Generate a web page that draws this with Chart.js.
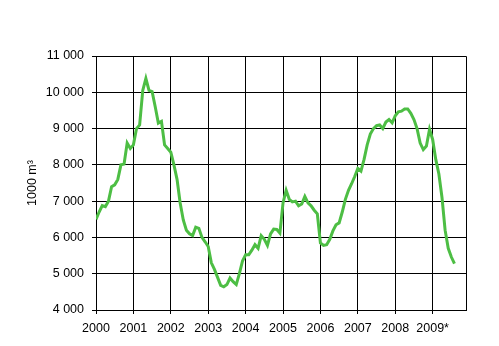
<!DOCTYPE html>
<html>
<head>
<meta charset="utf-8">
<script src="https://cdn.jsdelivr.net/npm/chart.js"></script>
<style>
  html, body { margin: 0; padding: 0; background: #fff; }
  #wrap { width: 499px; height: 346px; }
</style>
</head>
<body>
<div id="wrap"><canvas id="chart" width="499" height="346"></canvas></div>
<script>
// monthly values, 1000 m3, Jan 2000 .. Aug 2009
const values = [
  6500, 6700, 6880, 6850, 7000, 7400, 7450, 7600, 8000, 8020, 8600, 8450,
  8550, 9000, 9100, 10050, 10380, 10050, 10020, 9600, 9150, 9200, 8550, 8450,
  8350, 8000, 7600, 6950, 6480, 6200, 6100, 6050, 6280, 6250, 6000, 5880,
  5750, 5300, 5120, 4900, 4680, 4640, 4700, 4880, 4780, 4700, 5000, 5350,
  5520, 5520, 5650, 5800, 5700, 6050, 5950, 5780, 6100, 6230, 6220, 6120,
  6950, 7300, 7050, 6980, 7000, 6870, 6920, 7130, 6950, 6870, 6750, 6650,
  5850, 5780, 5800, 5950, 6180, 6350, 6400, 6700, 7050, 7300, 7480, 7680,
  7900, 7830, 8150, 8550, 8850, 9000, 9080, 9100, 9000, 9180, 9250, 9160,
  9350, 9460, 9480, 9540, 9540, 9420, 9250, 9000, 8600, 8420, 8520, 8980,
  8700, 8150, 7750, 7100, 6200, 5700, 5460, 5280
];
const xLabels = ['2000', '2001', '2002', '2003', '2004', '2005', '2006', '2007', '2008', '2009*'];
const yTicks = [4000, 5000, 6000, 7000, 8000, 9000, 10000, 11000];

const points = values.map((v, i) => ({ x: i, y: v }));
const fmt = n => String(n).replace(/\B(?=(\d{3})+(?!\d))/g, ' ');
const font = { family: 'Liberation Sans, Arial', size: 12.5 };

new Chart(document.getElementById('chart').getContext('2d'), {
  type: 'line',
  data: {
    datasets: [{
      data: points,
      borderColor: '#4dbe44',
      borderWidth: 3,
      pointRadius: 0,
      tension: 0,
      fill: false
    }]
  },
  options: {
    responsive: false,
    animation: false,
    layout: { padding: { top: 56, right: 33, left: 0, bottom: 0 } },
    plugins: { legend: { display: false }, tooltip: { enabled: false } },
    scales: {
      x: {
        type: 'linear',
        min: 0,
        max: 118.7,
        afterFit: s => { s.height = 36; },
        afterBuildTicks: s => { s.ticks = xLabels.map((_, i) => ({ value: i * 12 })); },
        ticks: {
          color: '#000',
          font: font,
          maxRotation: 0,
          autoSkip: false,
          padding: 7,
          callback: v => xLabels[v / 12]
        },
        grid: { color: '#000', lineWidth: 1, tickLength: 4, drawTicks: true },
        border: { color: '#000', width: 1 }
      },
      y: {
        min: 4000,
        max: 11000,
        afterFit: s => { s.width = 96; },
        afterBuildTicks: s => { s.ticks = yTicks.map(v => ({ value: v })); },
        ticks: {
          color: '#000',
          font: font,
          padding: 8,
          callback: v => fmt(v)
        },
        title: {
          display: true,
          text: '1000 m³',
          color: '#000',
          font: font,
          padding: { top: 25 }
        },
        grid: { color: '#000', lineWidth: 1, tickLength: 4, drawTicks: true },
        border: { color: '#000', width: 1 }
      }
    }
  },
  plugins: [{
    id: 'rightTopBorder',
    afterDraw(chart) {
      const { ctx, chartArea: a } = chart;
      ctx.save();
      ctx.strokeStyle = '#000';
      ctx.lineWidth = 1;
      ctx.beginPath();
      ctx.moveTo(Math.round(a.left) + 0.5, Math.round(a.top) + 0.5);
      ctx.lineTo(Math.round(a.right) + 0.5, Math.round(a.top) + 0.5);
      ctx.lineTo(Math.round(a.right) + 0.5, Math.round(a.bottom) + 0.5);
      ctx.stroke();
      ctx.restore();
    }
  }]
});
</script>
</body>
</html>
